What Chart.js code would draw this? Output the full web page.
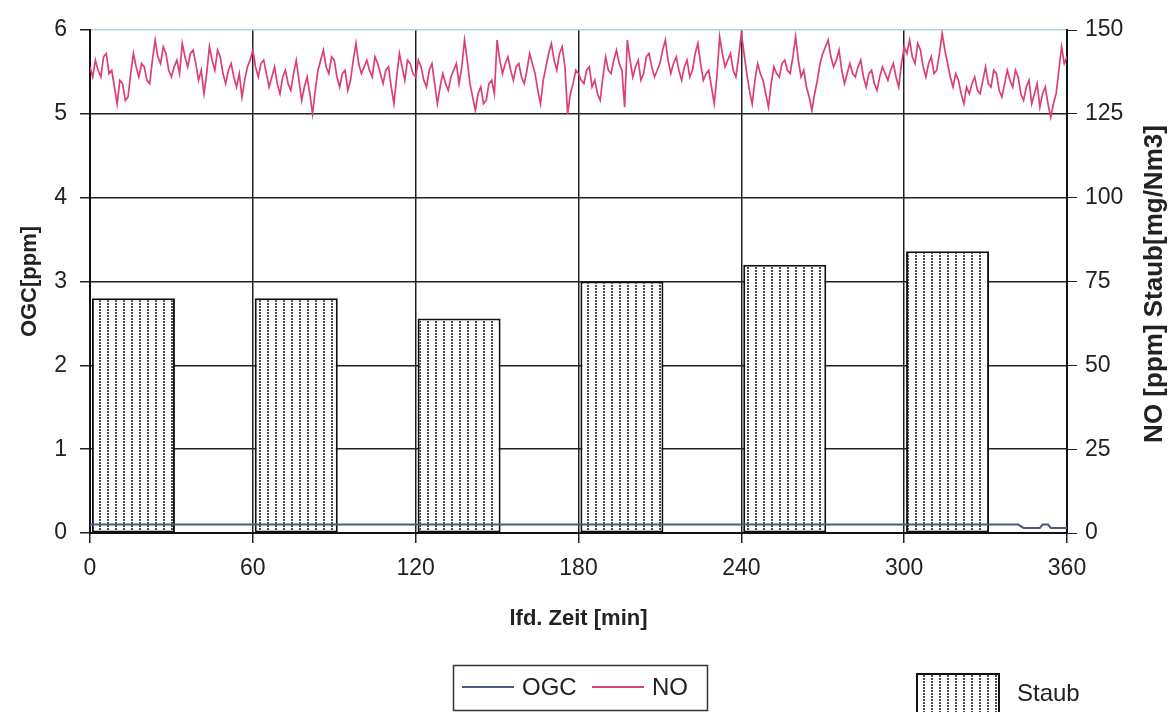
<!DOCTYPE html>
<html>
<head>
<meta charset="utf-8">
<title>OGC / NO / Staub</title>
<script src="https://cdn.jsdelivr.net/npm/chart.js@4"></script>
<style>
    html, body { margin: 0; padding: 0; background: #fff; }
    #wrap { width: 1169px; height: 712px; position: relative; }
</style>
</head>
<body>
<div id="wrap"><canvas id="emissionChart"></canvas></div>
<script>
// Staub (dust) measurements, one per 30 min sampling interval (midpoint time in min)
const staubTime = [16, 76, 136, 196, 256, 316];
const staubValue = [70, 70, 64, 75, 80, 84];

// OGC [ppm], left axis
const ogcTime = [0, 342, 344, 350, 351, 353, 354, 360];
const ogcValue = [0.1, 0.1, 0.06, 0.06, 0.1, 0.1, 0.06, 0.06];

// NO [ppm], right axis, read once per minute from 0 to 360
const noStep = 1;
const noValue = [
    139, 136, 141, 138, 136, 142, 143, 137, 138, 133,
    128, 135, 134, 129, 130, 137, 143, 139, 136, 140,
    139, 135, 134, 141, 147, 142, 140, 145, 143, 138,
    136, 139, 141, 137, 146, 142, 139, 143, 144, 140,
    135, 138, 131, 137, 145, 141, 138, 144, 142, 137,
    134, 138, 140, 136, 133, 137, 130, 135, 139, 141,
    144, 139, 136, 140, 141, 137, 133, 136, 139, 134,
    131, 136, 138, 134, 132, 137, 141, 135, 129, 133,
    136, 131, 125, 132, 138, 141, 144, 139, 137, 142,
    141, 136, 133, 137, 138, 132, 135, 141, 146, 140,
    137, 139, 141, 138, 136, 142, 140, 137, 134, 138,
    139, 133, 128, 136, 143, 139, 135, 141, 140, 137,
    136, 141, 139, 135, 133, 138, 140, 134, 128, 133,
    137, 134, 132, 136, 138, 140, 134, 139, 147, 141,
    134, 130, 126, 131, 133, 128, 129, 134, 135, 131,
    147, 141, 137, 140, 142, 138, 135, 139, 140, 136,
    134, 138, 143, 140, 137, 132, 128, 135, 139, 143,
    146, 141, 138, 143, 145, 139, 125, 131, 134, 138,
    137, 135, 134, 138, 139, 133, 135, 131, 129, 136,
    142, 138, 137, 141, 144, 140, 138, 127, 147, 141,
    136, 139, 141, 135, 137, 142, 143, 139, 136, 138,
    140, 144, 147, 141, 137, 140, 142, 138, 135, 139,
    141, 136, 138, 143, 146, 140, 135, 137, 138, 133,
    128, 136, 148, 143, 139, 141, 143, 138, 136, 142,
    149, 143, 137, 132, 128, 135, 140, 137, 135, 131,
    127, 134, 139, 137, 136, 140, 141, 138, 137, 142,
    148, 141, 136, 138, 133, 130, 126, 131, 135, 140,
    143, 145, 147, 142, 139, 141, 144, 138, 134, 137,
    140, 137, 136, 139, 141, 136, 133, 137, 138, 134,
    132, 136, 139, 137, 135, 138, 140, 136, 133, 140,
    145, 143, 147, 142, 140, 146, 144, 139, 136, 140,
    142, 137, 138, 143, 149, 144, 140, 136, 133, 137,
    135, 131, 128, 133, 131, 134, 136, 132, 131, 135,
    139, 134, 133, 138, 137, 132, 130, 134, 138, 135,
    133, 138, 136, 131, 129, 133, 135, 128, 131, 134,
    127, 131, 133, 128, 124, 128, 131, 138, 145, 140,
    142
];

// Tick setup
const xMin = 0, xMax = 360, xStep = 60;
const leftMax = 6, leftStep = 1;
const rightMax = 150, rightStep = 25;

const FONT = '"Liberation Sans", Arial, sans-serif';
const OGC_COLOR = '#4b5a80';
const NO_COLOR = '#dc3f78';

// Dotted vertical hatch used for the Staub bars
function makeDotPattern() {
    const c = document.createElement('canvas');
    c.width = 8;
    c.height = 3;
    const g = c.getContext('2d');
    g.fillStyle = '#ffffff';
    g.fillRect(0, 0, 8, 3);
    g.fillStyle = '#4a4a4a';
    g.fillRect(3, 0, 2, 2);
    return g.createPattern(c, 'repeat');
}
const dotPattern = makeDotPattern();

// Right axis title reads bottom to top, like the left one
const rightTitlePlugin = {
    id: 'rightTitle',
    afterDraw(chart) {
        const ctx = chart.ctx;
        ctx.save();
        ctx.translate(1155, 284);
        ctx.rotate(-Math.PI / 2);
        ctx.font = 'bold 26px ' + FONT;
        ctx.fillStyle = '#222';
        ctx.textAlign = 'center';
        ctx.textBaseline = 'middle';
        ctx.fillText('NO [ppm] Staub[mg/Nm3]', 0, 0);
        ctx.restore();
    }
};

// Legend: boxed line entries plus a separate Staub entry
const legendPlugin = {
    id: 'splitLegend',
    afterDraw(chart) {
        const ctx = chart.ctx;
        const ds = chart.data.datasets;
        ctx.save();
        ctx.font = '24px ' + FONT;
        ctx.textBaseline = 'middle';
        ctx.textAlign = 'left';

        ctx.strokeStyle = '#333';
        ctx.lineWidth = 1.5;
        ctx.strokeRect(453.5, 665.5, 254, 45);

        const lineItems = [ds[0], ds[1]];
        const startX = [462, 592];
        lineItems.forEach((d, i) => {
            ctx.strokeStyle = d.borderColor;
            ctx.lineWidth = 2;
            ctx.beginPath();
            ctx.moveTo(startX[i], 687);
            ctx.lineTo(startX[i] + 52, 687);
            ctx.stroke();
            ctx.fillStyle = '#222';
            ctx.fillText(d.label, startX[i] + 60, 688);
        });

        const bar = ds[2];
        ctx.fillStyle = bar.backgroundColor;
        ctx.fillRect(917, 674, 82, 50);
        ctx.strokeStyle = '#111';
        ctx.lineWidth = 2;
        ctx.strokeRect(917, 674, 82, 50);
        ctx.fillStyle = '#222';
        ctx.fillText(bar.label, 1017, 694);
        ctx.restore();
    }
};

const ctx = document.getElementById('emissionChart').getContext('2d');
new Chart(ctx, {
    type: 'bar',
    data: {
        datasets: [
            {
                type: 'line',
                label: 'OGC',
                data: ogcTime.map((t, i) => ({ x: t, y: ogcValue[i] })),
                borderColor: OGC_COLOR,
                borderWidth: 2,
                pointRadius: 0,
                tension: 0,
                yAxisID: 'y',
                order: 1
            },
            {
                type: 'line',
                label: 'NO',
                data: noValue.map((v, i) => ({ x: i * noStep, y: v })),
                borderColor: NO_COLOR,
                borderWidth: 1.7,
                pointRadius: 0,
                tension: 0,
                yAxisID: 'y1',
                order: 2
            },
            {
                type: 'bar',
                label: 'Staub',
                data: staubTime.map((t, i) => ({ x: t, y: staubValue[i] })),
                backgroundColor: dotPattern,
                borderColor: '#111',
                borderWidth: 2,
                borderSkipped: false,
                categoryPercentage: 1,
                barPercentage: 0.51,
                yAxisID: 'y1',
                order: 3
            }
        ]
    },
    options: {
        responsive: true,
        maintainAspectRatio: false,
        animation: false,
        layout: {
            padding: { top: 30, left: 0, right: 0, bottom: 80 }
        },
        plugins: {
            legend: { display: false },
            tooltip: { enabled: false }
        },
        scales: {
            x: {
                type: 'linear',
                position: 'bottom',
                min: xMin,
                max: xMax,
                offset: false,
                afterFit: (scale) => { scale.height = 99; },
                grid: {
                    offset: false,
                    color: '#222',
                    lineWidth: 1.5,
                    tickColor: '#222',
                    tickLength: 10
                },
                border: { color: '#111', width: 2 },
                ticks: {
                    stepSize: xStep,
                    padding: 12,
                    maxRotation: 0,
                    color: '#222',
                    font: { family: FONT, size: 23 }
                },
                title: {
                    display: true,
                    text: 'lfd. Zeit [min]',
                    color: '#222',
                    font: { family: FONT, size: 22, weight: 'bold' },
                    padding: { top: 0, bottom: 0 }
                }
            },
            y: {
                type: 'linear',
                position: 'left',
                min: 0,
                max: leftMax,
                afterFit: (scale) => { scale.width = 90; },
                grid: {
                    color: (c) => c.tick && c.tick.value === leftMax ? '#a6d8da' : '#222',
                    lineWidth: 1.5,
                    tickColor: '#222',
                    tickLength: 10
                },
                border: { color: '#111', width: 2 },
                ticks: {
                    stepSize: leftStep,
                    padding: 13,
                    color: '#222',
                    font: { family: FONT, size: 23 }
                },
                title: {
                    display: true,
                    text: 'OGC[ppm]',
                    color: '#222',
                    font: { family: FONT, size: 22, weight: 'bold' },
                    padding: { top: 17, bottom: 0 }
                }
            },
            y1: {
                type: 'linear',
                position: 'right',
                min: 0,
                max: rightMax,
                afterFit: (scale) => { scale.width = 102; },
                grid: {
                    drawOnChartArea: false,
                    tickColor: '#222',
                    tickLength: 10
                },
                border: { color: '#111', width: 2 },
                ticks: {
                    stepSize: rightStep,
                    padding: 8,
                    color: '#222',
                    font: { family: FONT, size: 23 }
                }
            }
        }
    },
    plugins: [rightTitlePlugin, legendPlugin]
});
</script>
</body>
</html>
